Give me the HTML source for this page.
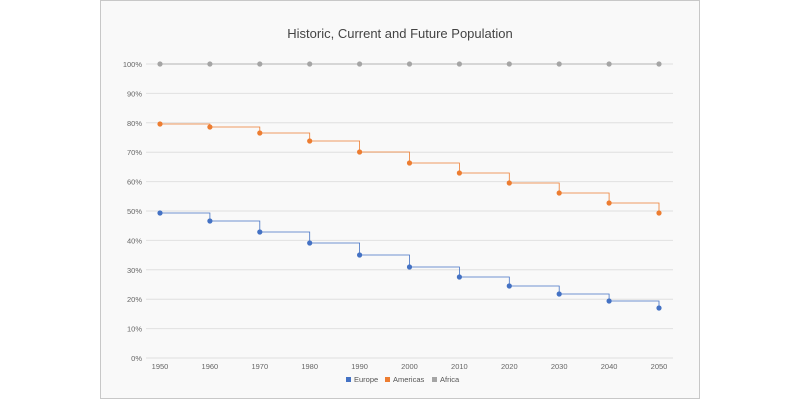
<!DOCTYPE html><html><head><style>body{margin:0;background:#fff}</style></head><body>
<svg width="800" height="400" xmlns="http://www.w3.org/2000/svg" font-family="'Segoe UI','Liberation Sans',sans-serif">
<rect x="100.5" y="0.5" width="599" height="398" fill="#f9f9f9" stroke="#c8c8c8"/>
<text x="400" y="38" text-anchor="middle" font-size="13" fill="#444">Historic, Current and Future Population</text>
<g id="grid" stroke="#e0e0e0" stroke-width="1"></g>
<g id="lab" font-size="7.5" fill="#666"></g>
<g id="s"></g>
<g font-size="7.5" fill="#555">
<rect x="346" y="377" width="5" height="5" fill="#4472c4"/><text x="354" y="382">Europe</text>
<rect x="385" y="377" width="5" height="5" fill="#ed7d31"/><text x="393" y="382">Americas</text>
<rect x="432" y="377" width="5" height="5" fill="#a5a5a5"/><text x="440" y="382">Africa</text>
</g>
</svg>
<script>
const ns="http://www.w3.org/2000/svg";
function el(t,a,p,txt){const e=document.createElementNS(ns,t);for(const k in a)e.setAttribute(k,a[k]);if(txt)e.textContent=txt;document.getElementById(p).appendChild(e);}
for(let i=0;i<=10;i++){const y=358-i*29.4;el('line',{x1:146,x2:673,y1:y,y2:y},'grid');el('text',{x:142,y:y+3,'text-anchor':'end'},'lab',(i*10)+'%');}
const X=i=>160+i*49.9;
for(let i=0;i<=10;i++)el('text',{x:X(i),y:369,'text-anchor':'middle'},'lab',String(1950+i*10));
const S=[['#4472c4',[213,221,232,243,255,267,277,286,294,301,308]],['#ed7d31',[124,127,133,141,152,163,173,183,193,203,213]],['#a5a5a5',[64,64,64,64,64,64,64,64,64,64,64]]];
for(const [c,ys] of S){let d='M'+X(0)+' '+ys[0];for(let i=1;i<ys.length;i++)d+=' H'+X(i)+' V'+ys[i];
el('path',{d,fill:'none',stroke:c,'stroke-width':0.8},'s');
ys.forEach((y,i)=>el('circle',{cx:X(i),cy:y,r:2.6,fill:c},'s'));}
</script>
</body></html>
